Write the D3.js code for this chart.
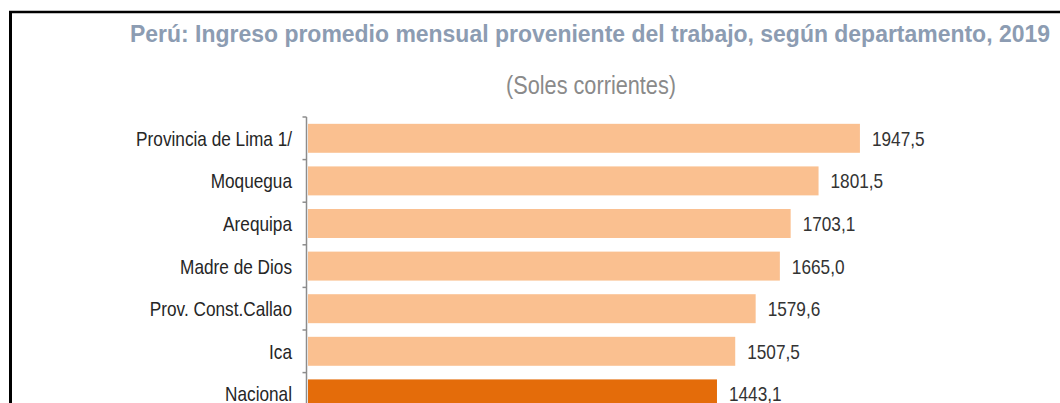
<!DOCTYPE html>
<html>
<head>
<meta charset="utf-8">
<script src="https://cdn.jsdelivr.net/npm/d3@7"></script>
<style>
  body { margin: 0; background: #fff; }
  svg { display: block; }
  text { font-family: "Liberation Sans", Arial, sans-serif; }
</style>
</head>
<body>
<svg id="chart" width="1060" height="403"></svg>
<script>
// Ingreso promedio mensual por departamento (visible part of the chart)
const departamentos = ["Provincia de Lima 1/", "Moquegua", "Arequipa", "Madre de Dios",
  "Prov. Const.Callao", "Ica", "Nacional"];
const ingresos = [1947.5, 1801.5, 1703.1, 1665.0, 1579.6, 1507.5, 1443.1];
const destacado = ["Nacional"];

const titulo = "Perú: Ingreso promedio mensual proveniente del trabajo, según departamento, 2019";
const subtitulo = "(Soles corrientes)";

const data = departamentos.map((d, i) => ({ name: d, value: ingresos[i] }));

const svg = d3.select("#chart");
const fmt = v => d3.format(".1f")(v).replace(".", ",");
const narrow = 0.82; // fake a narrow font by squeezing Liberation Sans

// frame (only top and left edges are visible)
svg.append("line")
  .attr("x1", 9).attr("x2", 1060).attr("y1", 12).attr("y2", 12)
  .attr("stroke", "#000").attr("stroke-width", 2.5);
svg.append("line")
  .attr("x1", 10.5).attr("x2", 10.5).attr("y1", 11).attr("y2", 403)
  .attr("stroke", "#000").attr("stroke-width", 3);

// titles
svg.append("text")
  .attr("x", 130).attr("y", 42)
  .attr("textLength", 920)
  .attr("lengthAdjust", "spacingAndGlyphs")
  .style("font-weight", "bold")
  .style("font-size", "23px")
  .style("fill", "#8c9cb2")
  .text(titulo);

svg.append("text")
  .attr("x", 506).attr("y", 94)
  .attr("textLength", 170)
  .attr("lengthAdjust", "spacingAndGlyphs")
  .style("font-size", "26px")
  .style("fill", "#8a8a8a")
  .text(subtitulo);

// scales
const x = d3.scaleLinear().domain([0, 2500]).range([308, 308 + 2500 * 0.2834]);
const y = d3.scaleBand()
  .domain(departamentos)
  .range([117, 117 + departamentos.length * 42.6])
  .paddingInner(0.32)
  .paddingOuter(0.16);

// bars
svg.selectAll(".bar")
  .data(data)
  .join("rect")
  .attr("class", "bar")
  .attr("x", x(0))
  .attr("y", d => y(d.name))
  .attr("width", d => x(d.value) - x(0))
  .attr("height", y.bandwidth())
  .attr("fill", d => destacado.includes(d.name) ? "#e46c0a" : "#fac090");

// value labels
svg.selectAll(".val")
  .data(data)
  .join("text")
  .attr("class", "val")
  .attr("transform", d => `translate(${x(d.value) + 12},${y(d.name) + y.bandwidth() / 2}) scale(${narrow},1)`)
  .attr("dy", "0.36em")
  .style("font-size", "21px")
  .style("fill", "#333")
  .text(d => fmt(d.value));

// category axis: line + ticks at band boundaries
const axisX = 306.5;
svg.append("line")
  .attr("x1", axisX).attr("x2", axisX)
  .attr("y1", 117).attr("y2", 403)
  .attr("stroke", "#8c8c8c").attr("stroke-width", 1.5);

const bounds = d3.range(departamentos.length + 1).map(i => y.range()[0] + i * y.step());
svg.selectAll(".tick")
  .data(bounds)
  .join("line")
  .attr("class", "tick")
  .attr("x1", axisX - 4).attr("x2", axisX)
  .attr("y1", d => d).attr("y2", d => d)
  .attr("stroke", "#8c8c8c").attr("stroke-width", 1.5);

svg.selectAll(".cat")
  .data(data)
  .join("text")
  .attr("class", "cat")
  .attr("transform", d => `translate(292,${y(d.name) + y.bandwidth() / 2}) scale(${narrow},1)`)
  .attr("dy", "0.36em")
  .attr("text-anchor", "end")
  .style("font-size", "21px")
  .style("fill", "#262626")
  .text(d => d.name);
</script>
</body>
</html>
